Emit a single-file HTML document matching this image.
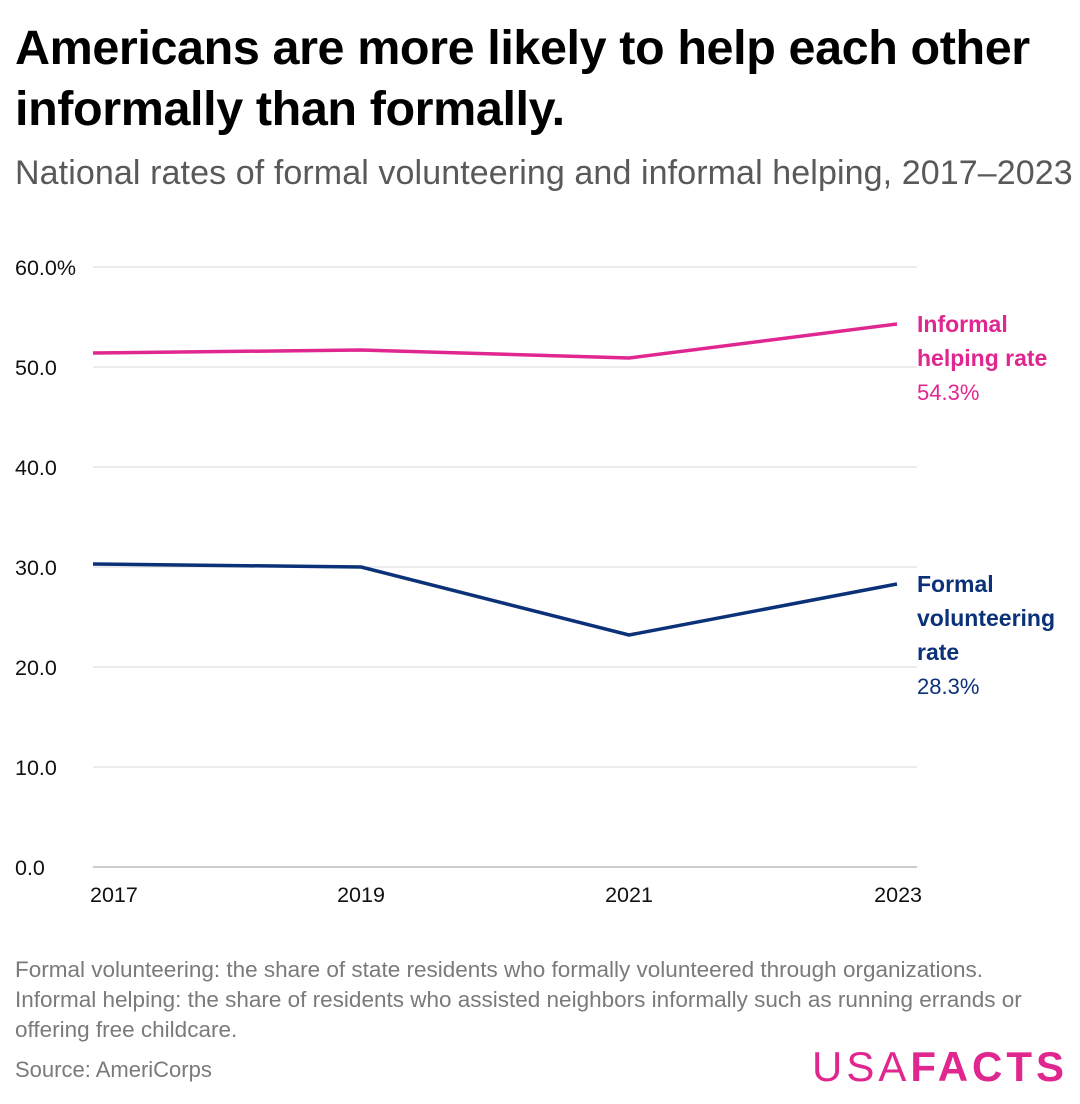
<!DOCTYPE html>
<html><head><meta charset="utf-8"><style>
body{margin:0;width:1080px;height:1104px;background:#fff;font-family:"Liberation Sans",sans-serif;position:relative;overflow:hidden}
.t{position:absolute;white-space:nowrap}
</style></head><body>
<div class="t" style="left:15px;top:18px;font-size:48.5px;font-weight:bold;line-height:61px;color:#000;letter-spacing:-0.4px">Americans are more likely to help each other<br>informally than formally.</div>
<div class="t" style="left:15px;top:154px;font-size:34px;color:#595959;letter-spacing:0.1px">National rates of formal volunteering and informal helping, 2017–2023</div>
<svg id="chart" width="1080" height="940" style="position:absolute;left:0;top:0"></svg>
<div class="t" style="left:15px;top:955px;font-size:22.5px;line-height:30px;color:#7a7a7a">Formal volunteering: the share of state residents who formally volunteered through organizations.<br>Informal helping: the share of residents who assisted neighbors informally such as running errands or<br>offering free childcare.</div>
<div class="t" style="left:15px;top:1057px;font-size:22px;color:#7a7a7a">Source: AmeriCorps</div>
<div class="t" style="left:812px;top:1043px;font-size:42px;color:#e0268f;letter-spacing:4px">USA<b>FACTS</b></div>
<script>
const years=[2017,2019,2021,2023];
const informal=[51.4,51.7,50.9,54.3];
const formal=[30.3,30.0,23.2,28.3];
const ticks=[0,10,20,30,40,50,60];
const tickLabels=["0.0","10.0","20.0","30.0","40.0","50.0","60.0%"];
const NS="http://www.w3.org/2000/svg";
const svg=document.getElementById('chart');
const x=v=>93+(v-2017)/6*804;
const y=v=>867-v*10;
function mk(t,a,txt){const e=document.createElementNS(NS,t);for(const k in a)e.setAttribute(k,a[k]);if(txt!==undefined)e.textContent=txt;svg.appendChild(e);return e;}
ticks.forEach((t,i)=>{
 const l=mk('line',{x1:93,x2:917,y1:y(t),y2:y(t),stroke:t===0?'#999':'#d9d9d9','stroke-width':1});
 
 
 const tx=mk('text',{x:15,y:y(t)+8,'font-size':21.5,fill:'#111'},tickLabels[i]);
 
 
});
years.forEach((yr,i)=>{
 const anchor=i===0?'start':(i===years.length-1?'end':'middle');
 const dx=i===0?-3:(i===years.length-1?25:0);
 const tx=mk('text',{x:x(yr)+dx,y:902,'font-size':21.5,fill:'#111','text-anchor':anchor},String(yr));
 
 
});
function series(vals,color,name){
 const p=mk('polyline',{points:vals.map((v,i)=>x(years[i])+','+y(v)).join(' '),fill:'none',stroke:color,'stroke-width':3.5,'stroke-linejoin':'round'});
 
 
}
series(informal,'#e0268f','informal-helping-line');
series(formal,'#0b3278','formal-volunteering-line');
function label(lines,val,color,top,name){
 lines.forEach((s,i)=>{const t=mk('text',{x:917,y:top+i*34,'font-size':23,'font-weight':'bold',fill:color},s);
 
 });
 const v=mk('text',{x:917,y:top+lines.length*34,'font-size':22,fill:color},val.toFixed(1)+'%');
 
 
}
label(['Informal','helping rate'],informal[3],'#e0268f',332,'informal-label');
label(['Formal','volunteering','rate'],formal[3],'#0b3278',592,'formal-label');
</script>
</body></html>
